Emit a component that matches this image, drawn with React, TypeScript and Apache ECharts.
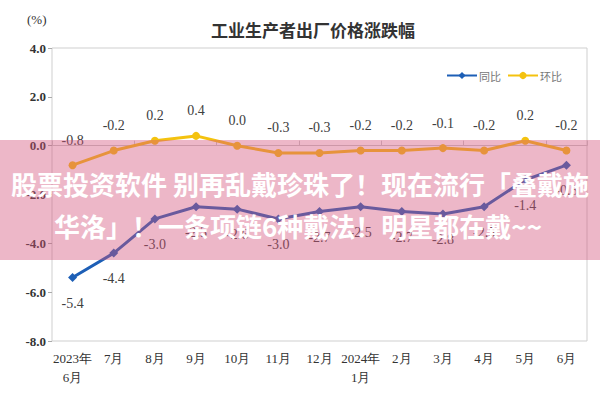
import React, { useEffect, useRef } from "react";
import * as echarts from "echarts";

const categories = [
  "2023年\n6月", "7月", "8月", "9月", "10月", "11月", "12月",
  "2024年\n1月", "2月", "3月", "4月", "5月", "6月",
];
const yoyValues = [-5.4, -4.4, -3.0, -2.5, -2.6, -3.0, -2.7, -2.5, -2.7, -2.8, -2.5, -1.4, -0.8];
const momValues = [-0.8, -0.2, 0.2, 0.4, 0.0, -0.3, -0.3, -0.2, -0.2, -0.1, -0.2, 0.2, -0.2];
const seriesNames = ["同比", "环比"];
const titleText = "工业生产者出厂价格涨跌幅";
const unitText = "(%)";
const bannerLine1 = "股票投资软件 别再乱戴珍珠了！现在流行「叠戴施";
const bannerLine2 = "华洛」！一条项链6种戴法！明星都在戴~~";

const serif = "'Liberation Serif', 'DejaVu Serif', serif";
const cjk = "'Noto Sans CJK SC', sans-serif";

export default function App() {
  const ref = useRef<HTMLDivElement>(null);
  useEffect(() => {
    if (!ref.current) return;
    const chart = echarts.init(ref.current, null, { renderer: "svg" });
    const labelStyle = {
      show: true,
      fontFamily: serif,
      fontSize: 14,
      color: "#404040",
      formatter: (p: any) => Number(p.value).toFixed(1),
    };
    chart.setOption({
      animation: false,
      backgroundColor: "#ffffff",
      title: {
        text: titleText,
        left: 206,
        top: 16,
        textStyle: { fontFamily: cjk, fontSize: 17, fontWeight: "bold", color: "#333" },
      },
      legend: {
        left: 441,
        top: 65,
        itemWidth: 30,
        itemHeight: 9,
        itemGap: 6,
        data: seriesNames,
        textStyle: { fontFamily: cjk, fontSize: 11, color: "#777", padding: [0, 0, 0, -3] },
      },
      grid: {
        left: 52,
        right: 13,
        top: 48,
        bottom: 59,
        show: true,
        borderColor: "#cfcfcf",
        borderWidth: 1,
      },
      xAxis: [
        {
          type: "category",
          data: categories,
          position: "bottom",
          axisLine: { show: false, onZero: false },
          axisTick: { show: false },
          axisLabel: {
            fontFamily: serif,
            fontSize: 13,
            color: "#333",
            lineHeight: 19,
            margin: 8,
            interval: 0,
          },
        },
        {
          type: "category",
          data: categories,
          position: "bottom",
          axisLine: { show: true, onZero: true, lineStyle: { color: "#c8c8c8", width: 1 } },
          axisTick: { show: true, inside: true, length: 5, lineStyle: { color: "#c8c8c8" } },
          axisLabel: { show: false },
        },
      ],
      yAxis: {
        type: "value",
        min: -8,
        max: 4,
        interval: 2,
        splitLine: { show: false },
        axisLine: { show: false },
        axisTick: { show: true, length: 4, lineStyle: { color: "#aaa" } },
        axisLabel: {
          fontFamily: serif,
          fontSize: 13,
          fontWeight: "bold",
          color: "#333",
          margin: 6,
          formatter: (v: number) => v.toFixed(1),
        },
      },
      series: [
        {
          name: seriesNames[0],
          type: "line",
          xAxisIndex: 0,
          data: yoyValues,
          symbol: "diamond",
          symbolSize: 9,
          itemStyle: { color: "#1d5fb6" },
          lineStyle: { color: "#1d5fb6", width: 3 },
          label: { ...labelStyle, position: "bottom", distance: 14 },
          z: 3,
        },
        {
          name: seriesNames[1],
          type: "line",
          xAxisIndex: 0,
          data: momValues,
          symbol: "circle",
          symbolSize: 8,
          itemStyle: { color: "#f4c20f" },
          lineStyle: { color: "#f4c20f", width: 3 },
          label: { ...labelStyle, position: "top", distance: 14 },
          z: 3,
        },
      ],
      graphic: [
        {
          type: "text",
          left: 27,
          top: 13,
          style: { text: unitText, fontFamily: serif, fontSize: 13, fill: "#333" },
        },
        {
          type: "rect",
          shape: { x: 0, y: 140, width: 600, height: 120 },
          style: { fill: "rgba(212, 84, 124, 0.42)" },
          z: 100,
        },
        {
          type: "text",
          x: 300,
          y: 183,
          style: {
            text: bannerLine1,
            fontFamily: cjk,
            fontSize: 26,
            fontWeight: "bold",
            fill: "#ffffff",
            textAlign: "center",
            textVerticalAlign: "middle",
          },
          z: 101,
        },
        {
          type: "text",
          x: 298,
          y: 225,
          style: {
            text: bannerLine2,
            fontFamily: cjk,
            fontSize: 26,
            fontWeight: "bold",
            fill: "#ffffff",
            textAlign: "center",
            textVerticalAlign: "middle",
          },
          z: 101,
        },
      ],
    });
    return () => chart.dispose();
  }, []);
  return <div ref={ref} style={{ width: 600, height: 400, position: "absolute", left: 0, top: 0 }} />;
}
